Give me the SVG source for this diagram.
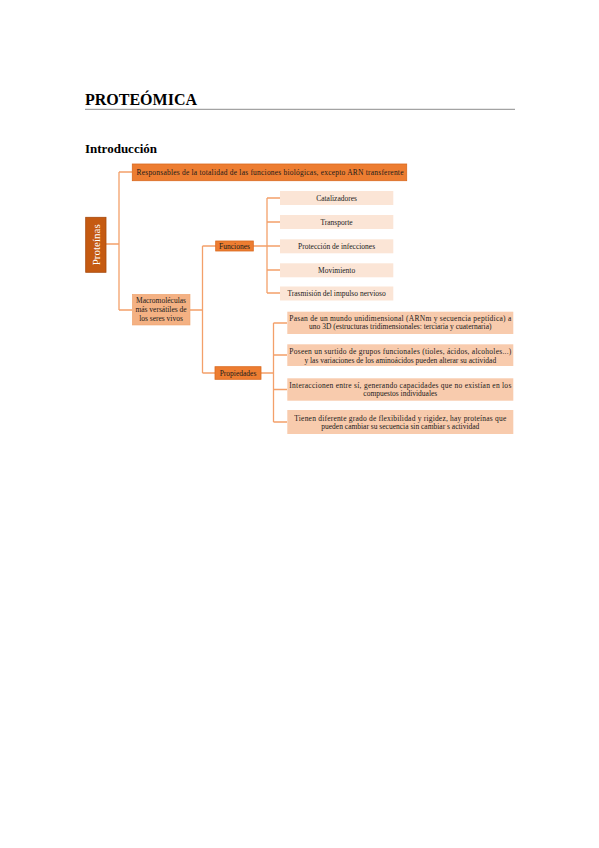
<svg xmlns="http://www.w3.org/2000/svg" width="599" height="848" viewBox="0 0 599 848">
<style>
.t{font-family:"Liberation Serif","Times New Roman",serif;font-size:7.5px;fill:#1a1a1a;text-anchor:middle}
.h1{font-family:"Liberation Serif","Times New Roman",serif;font-size:16px;font-weight:bold;fill:#000}
.h2{font-family:"Liberation Serif","Times New Roman",serif;font-size:13px;font-weight:bold;fill:#000}
.c{fill:none;stroke:#F3A06A;stroke-width:1.3}
.dark{fill:#C55A11;stroke:#A6490C;stroke-width:0.8}
.mid{fill:#ED7D31;stroke:#D9691F;stroke-width:0.8}
.light{fill:#F4B183;stroke:#EFA36E;stroke-width:0.6}
.pale{fill:#FBE5D6}
.peach{fill:#F8CBAD}
</style>
<rect width="599" height="848" fill="#fff"/>
<text class="h1" x="85" y="105">PROTEÓMICA</text>
<line x1="85" y1="109.3" x2="515" y2="109.3" stroke="#8c8c8c" stroke-width="1"/>
<text class="h2" x="85" y="153">Introducción</text>

<g id="connectors">
<path class="c" d="M106 244H119M119 172V310M119 172H132M119 310H132"/>
<path class="c" d="M190 310H202.5M202.5 246V373M202.5 246H216M202.5 373H215"/>
<path class="c" d="M253 246H267M267 198V293M267 198H280M267 222H280M267 246H280M267 270H280M267 293H280"/>
<path class="c" d="M261 373H273.5M273.5 323V422M273.5 323H287M273.5 355H287M273.5 389.5H287M273.5 422H287"/>
</g>

<g id="proteinas">
<rect class="dark" x="85.7" y="217.3" width="20.3" height="55"/>
<text class="t" transform="translate(99.5 244.8) rotate(-90)" style="font-size:11px;fill:#fff">Proteínas</text>
</g>
<g id="responsables">
<rect class="mid" x="132.3" y="164" width="274.4" height="16.7"/>
<text class="t" x="270" y="174.8" textLength="267" lengthAdjust="spacing">Responsables de la totalidad de las funciones biológicas, excepto ARN transferente</text>
</g>
<g id="macromoleculas">
<rect class="light" x="132.3" y="294.3" width="57.7" height="30.7"/>
<text class="t" x="161" y="303.2">Macromoléculas</text>
<text class="t" x="161" y="311.8">más versátiles de</text>
<text class="t" x="161" y="320.6">los seres vivos</text>
</g>
<g id="funciones">
<rect class="mid" x="215.7" y="241" width="37.6" height="10"/>
<text class="t" x="234.5" y="248.6">Funciones</text>
</g>
<g id="catalizadores">
<rect class="pale" x="280" y="191" width="113.3" height="14"/>
<text class="t" x="336.6" y="200.6">Catalizadores</text>
</g>
<g id="transporte">
<rect class="pale" x="280" y="215" width="113.3" height="14"/>
<text class="t" x="336.6" y="224.6">Transporte</text>
</g>
<g id="proteccion">
<rect class="pale" x="280" y="239.3" width="113.3" height="14"/>
<text class="t" x="336.6" y="248.8">Protección de infecciones</text>
</g>
<g id="movimiento">
<rect class="pale" x="280" y="263.3" width="113.3" height="14"/>
<text class="t" x="336.6" y="272.8">Movimiento</text>
</g>
<g id="trasmision">
<rect class="pale" x="280" y="286.5" width="113.3" height="14"/>
<text class="t" x="336.6" y="296">Trasmisión del impulso nervioso</text>
</g>
<g id="propiedades">
<rect class="mid" x="215" y="366.7" width="46" height="12.6"/>
<text class="t" x="238" y="375.6">Propiedades</text>
</g>
<g id="prop1">
<rect class="peach" x="287.3" y="311.7" width="226" height="22.3"/>
<text class="t" x="400.3" y="320.8" textLength="222" lengthAdjust="spacing">Pasan de un mundo unidimensional (ARNm y secuencia peptídica) a</text>
<text class="t" x="400.3" y="329.4">uno 3D (estructuras tridimensionales: terciaria y cuaternaria)</text>
</g>
<g id="prop2">
<rect class="peach" x="287.3" y="344.3" width="226" height="21.7"/>
<text class="t" x="400.3" y="354.2" textLength="222" lengthAdjust="spacing">Poseen un surtido de grupos funcionales (tioles, ácidos, alcoholes...)</text>
<text class="t" x="400.3" y="362.9">y las variaciones de los aminoácidos pueden alterar su actividad</text>
</g>
<g id="prop3">
<rect class="peach" x="287.3" y="378.3" width="226" height="22.4"/>
<text class="t" x="400.3" y="387.6" textLength="222" lengthAdjust="spacing">Interaccionen entre sí, generando capacidades que no existían en los</text>
<text class="t" x="400.3" y="396.3">compuestos individuales</text>
</g>
<g id="prop4">
<rect class="peach" x="287.3" y="410" width="226" height="24"/>
<text class="t" x="400.3" y="420.8" textLength="212" lengthAdjust="spacing">Tienen diferente grado de flexibilidad  y rigidez, hay proteínas que</text>
<text class="t" x="400.3" y="429.3">pueden cambiar su secuencia sin cambiar s actividad</text>
</g>
</svg>
